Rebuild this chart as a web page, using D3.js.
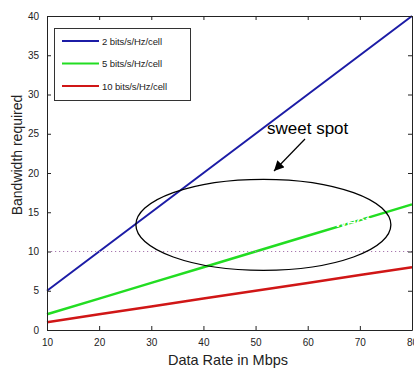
<!DOCTYPE html>
<html>
<head>
<meta charset="utf-8">
<script src="https://cdn.jsdelivr.net/npm/d3@7"></script>
<style>
  html, body { margin: 0; padding: 0; background: #fff; }
  svg { display: block; font-family: "Liberation Sans", Arial, sans-serif; }
</style>
</head>
<body>
<svg id="chart" width="414" height="369"></svg>
<script>
// Data rate (Mbps) sample points
const dataRate = [10, 20, 30, 40, 50, 60, 70, 80];
// Spectral efficiencies (bits/s/Hz/cell) and series labels
const efficiency = [2, 5, 10];
const seriesLabels = ["2 bits/s/Hz/cell", "5 bits/s/Hz/cell", "10 bits/s/Hz/cell"];
const seriesColors = ["#1c1ca6", "#22dd22", "#d01616"];
// Bandwidth required per series (MHz) at each data rate
const bw2 = [5, 10, 15, 20, 25, 30, 35, 40];
const bw5 = [2, 4, 6, 8, 10, 12, 14, 16];
const bw10 = [1, 2, 3, 4, 5, 6, 7, 8];
const seriesValues = [bw2, bw5, bw10];
// Axis ticks
const xTicks = [10, 20, 30, 40, 50, 60, 70, 80];
const yTicks = [0, 5, 10, 15, 20, 25, 30, 35, 40];
// Reference bandwidth level
const refLevel = 10;
// Highlighted region: centre and half-extents in data units
const spotCenter = [51.5, 13.4];
const spotRadius = [24.45, 5.8];

const svg = d3.select("#chart");
const x = d3.scaleLinear().domain([10, 80]).range([47, 412]);
const y = d3.scaleLinear().domain([0, 40]).range([330, 16]);

// series lines
seriesValues.forEach((vals, i) => {
  const pts = dataRate.map((d, j) => [d, vals[j]]);
  svg.append("path")
    .datum(pts)
    .attr("fill", "none")
    .attr("stroke", seriesColors[i])
    .attr("stroke-width", i === 0 ? 2 : 2.5)
    .attr("d", d3.line().x(d => x(d[0])).y(d => y(d[1])));
});

// dotted reference line
svg.append("line")
  .attr("x1", x(10)).attr("x2", x(80))
  .attr("y1", y(refLevel)).attr("y2", y(refLevel))
  .attr("stroke", "#a878b0").attr("stroke-width", 1.2)
  .attr("stroke-dasharray", "1.2,2.8");

// ghost label crossing the green line
svg.append("text")
  .attr("x", 326).attr("y", 227)
  .attr("font-size", 17)
  .attr("fill", "#fff")
  .text("sweet spot");

// ellipse around the sweet spot
svg.append("ellipse")
  .attr("cx", x(spotCenter[0])).attr("cy", y(spotCenter[1]))
  .attr("rx", x(spotCenter[0] + spotRadius[0]) - x(spotCenter[0]))
  .attr("ry", y(spotCenter[1] - spotRadius[1]) - y(spotCenter[1]))
  .attr("fill", "none").attr("stroke", "#000").attr("stroke-width", 1.3);

// annotation
svg.append("text")
  .attr("x", 267).attr("y", 134)
  .attr("font-size", 17)
  .attr("fill", "#000")
  .text("sweet spot");

svg.append("defs").append("marker")
  .attr("id", "arrowhead")
  .attr("viewBox", "0 0 10 10")
  .attr("refX", 10).attr("refY", 5)
  .attr("markerWidth", 10).attr("markerHeight", 10)
  .attr("markerUnits", "userSpaceOnUse")
  .attr("orient", "auto")
  .append("path").attr("d", "M0,0 L10,5 L0,10 z").attr("fill", "#000");

svg.append("line")
  .attr("x1", 305).attr("y1", 139)
  .attr("x2", 274).attr("y2", 171)
  .attr("stroke", "#000").attr("stroke-width", 1.2)
  .attr("marker-end", "url(#arrowhead)");

// axes (box with inward ticks on all sides)
const axisColor = "#222";
const styleAxis = g => {
  g.selectAll(".domain").attr("stroke", axisColor);
  g.selectAll(".tick line").attr("stroke", axisColor);
  g.selectAll(".tick text").attr("fill", "#222").attr("font-size", 10);
};

svg.append("g")
  .attr("transform", `translate(0,${y(0)})`)
  .call(d3.axisBottom(x).tickValues(xTicks).tickSize(-4).tickPadding(9).tickSizeOuter(0))
  .call(styleAxis);
svg.append("g")
  .attr("transform", `translate(0,${y(40)})`)
  .call(d3.axisTop(x).tickValues(xTicks).tickSize(-4).tickFormat("").tickSizeOuter(0))
  .call(styleAxis);
svg.append("g")
  .attr("transform", `translate(${x(10)},0)`)
  .call(d3.axisLeft(y).tickValues(yTicks).tickSize(-4).tickPadding(8).tickSizeOuter(0))
  .call(styleAxis);
svg.append("g")
  .attr("transform", `translate(${x(80)},0)`)
  .call(d3.axisRight(y).tickValues(yTicks).tickSize(-4).tickFormat("").tickSizeOuter(0))
  .call(styleAxis);

// axis titles
svg.append("text")
  .attr("x", 228).attr("y", 365)
  .attr("text-anchor", "middle")
  .attr("font-size", 14.5).attr("fill", "#222")
  .text("Data Rate in Mbps");
svg.append("text")
  .attr("transform", "translate(22,155) rotate(-90)")
  .attr("text-anchor", "middle")
  .attr("font-size", 14).attr("fill", "#222")
  .text("Bandwidth required");

// legend
const legend = svg.append("g");
legend.append("rect")
  .attr("x", 54.5).attr("y", 28.5).attr("width", 136).attr("height", 72)
  .attr("fill", "#fff").attr("stroke", "#333").attr("stroke-width", 1);
seriesLabels.forEach((lab, i) => {
  const ly = 41 + i * 22.5;
  legend.append("line")
    .attr("x1", 62).attr("x2", 99).attr("y1", ly).attr("y2", ly)
    .attr("stroke", seriesColors[i]).attr("stroke-width", 2);
  legend.append("text")
    .attr("x", 102).attr("y", ly + 3.5)
    .attr("font-size", 9.5).attr("fill", "#222")
    .attr("textLength", i === 2 ? 65 : 60)
    .text(lab);
});
</script>
</body>
</html>
